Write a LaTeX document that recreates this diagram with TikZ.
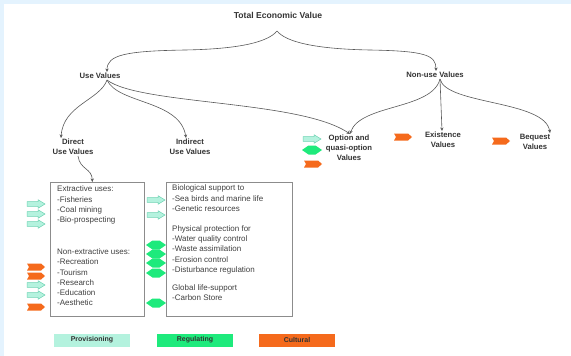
\documentclass[tikz,border=0pt]{standalone}
\usepackage{fontspec}
\setmainfont{Liberation Sans}
\usetikzlibrary{arrows.meta}
\definecolor{frameblue}{HTML}{E4F3FE}
\definecolor{provfill}{HTML}{B4F2DE}
\definecolor{provline}{HTML}{6FD3B4}
\definecolor{regfill}{HTML}{1EEA7C}
\definecolor{cultfill}{HTML}{F56A1C}
\begin{document}
\begin{tikzpicture}[x=1pt,y=-1pt,
  lbl/.style={font=\fontsize{7.7}{10}\selectfont\bfseries, text=black!80, align=center, inner sep=1pt},
  boxtxt/.style={font=\fontsize{8}{10.2}\selectfont, text=black!75, align=left, anchor=north west, inner sep=0pt},
  conn/.style={draw=black!65, line width=0.6pt, -{Stealth[length=3.5pt,width=3.2pt]}},
  valbox/.style={draw=black!45, line width=0.7pt, minimum width=94pt, minimum height=134pt, anchor=north west, inner sep=0pt},
  legend/.style={minimum width=76pt, minimum height=13pt, inner sep=0pt, font=\fontsize{7}{8}\selectfont\bfseries, text=black!80},
  provicon/.pic={\draw[draw=provline, fill=provfill, line width=0.5pt] (-9,-2.3) -- (2,-2.3) -- (2,-4.3) -- (9,0) -- (2,4.3) -- (2,2.3) -- (-9,2.3) -- cycle;},
  regicon/.pic={\fill[regfill] (-10,0) -- (-3.5,-4.5) -- (3.5,-4.5) -- (10,0) -- (3.5,4.5) -- (-3.5,4.5) -- cycle;},
  culticon/.pic={\fill[cultfill] (-9,-3.5) -- (5,-3.5) -- (9,0) -- (5,3.5) -- (-9,3.5) -- (-7,0) -- cycle;}
]
\useasboundingbox (0,0) rectangle (571,356);
\fill[white] (0,0) rectangle (571,356);
\fill[frameblue] (0,0) rectangle (571,3.5);
\fill[frameblue] (0,0) rectangle (4,356);

% hierarchy labels
\node[lbl, font=\fontsize{8.6}{10}\selectfont\bfseries] (tev) at (278,15) {Total Economic Value};
\coordinate (peak) at (277,31);
\node[lbl] (uv) at (100,76) {Use Values};
\node[lbl] (nuv) at (435,75) {Non-use Values};
\node[lbl] (duv) at (73,147) {Direct\\Use Values};
\node[lbl] (iuv) at (190,147) {Indirect\\Use Values};
\node[lbl] (opt) at (349,148) {Option and\\quasi-option\\Values};
\node[lbl] (exv) at (443,140) {Existence\\Values};
\node[lbl] (bqv) at (535,142) {Bequest\\Values};

% brace
\draw[conn] (peak) .. controls (268,42) and (240,49) .. (185,50) .. controls (125,51) and (107,55) .. ([xshift=7pt]uv.north);
\draw[conn] (peak) .. controls (286,42) and (315,49) .. (370,50) .. controls (425,51) and (436,55) .. ([xshift=1pt]nuv.north);

% from use values
\draw[conn] ([xshift=7pt]uv.south) .. controls (100,100) and (63,105) .. ([xshift=-12pt]duv.north);
\draw[conn] ([xshift=7pt]uv.south) .. controls (118,104) and (180,100) .. ([xshift=-4pt]iuv.north);
\draw[conn] ([xshift=7pt]uv.south) .. controls (140,105) and (300,100) .. ([xshift=1pt]opt.north);

% from non-use values
\draw[conn] ([xshift=5pt]nuv.south) .. controls (432,110) and (360,104) .. ([xshift=1pt]opt.north);
\draw[conn] ([xshift=5pt]nuv.south) -- ([xshift=-1pt]exv.north);
\draw[conn] ([xshift=5pt]nuv.south) .. controls (446,105) and (545,100) .. ([xshift=15pt]bqv.north);

% boxes
\node[valbox] (lbox) at (50,182) {};
\node[valbox, minimum width=126pt] (rbox) at (166,182) {};
\draw[conn] ([xshift=5pt]duv.south) .. controls (80,170) and (92,168) .. ([xshift=-5pt]lbox.north);

\node[boxtxt] (ltext) at (57,186) {Extractive uses:\\-Fisheries\\-Coal mining\\-Bio-prospecting\\[22pt]Non-extractive uses:\\-Recreation\\-Tourism\\-Research\\-Education\\-Aesthetic};
\node[boxtxt] (rtext) at (172,185) {Biological support to\\-Sea birds and marine life\\-Genetic resources\\[10pt]Physical protection for\\-Water quality control\\-Waste assimilation\\-Erosion control\\-Disturbance regulation\\[8pt]Global life-support\\-Carbon Store};

% icons left of left box
\pic at (36,204) {provicon};
\pic at (36,214) {provicon};
\pic at (36,224) {provicon};
\pic at (36,267) {culticon};
\pic at (36,276) {culticon};
\pic at (36,285) {provicon};
\pic at (36,295) {provicon};
\pic at (36,307) {culticon};

% icons between boxes
\pic at (156,200) {provicon};
\pic at (156,215) {provicon};
\pic at (156,245) {regicon};
\pic at (156,254) {regicon};
\pic at (156,263) {regicon};
\pic at (156,273) {regicon};
\pic at (156,303) {regicon};

% icons near non-use values
\pic at (312,139) {provicon};
\pic at (312,150) {regicon};
\pic at (313,164) {culticon};
\pic at (403,137) {culticon};
\pic at (501,141) {culticon};

% legend
\node[legend, fill=provfill] (lprov) at (92,340) {Provisioning};
\node[legend, fill=regfill] (lreg) at (195,340) {Regulating};
\node[legend, fill=cultfill] (lcult) at (297,340) {Cultural};
\end{tikzpicture}
\end{document}
